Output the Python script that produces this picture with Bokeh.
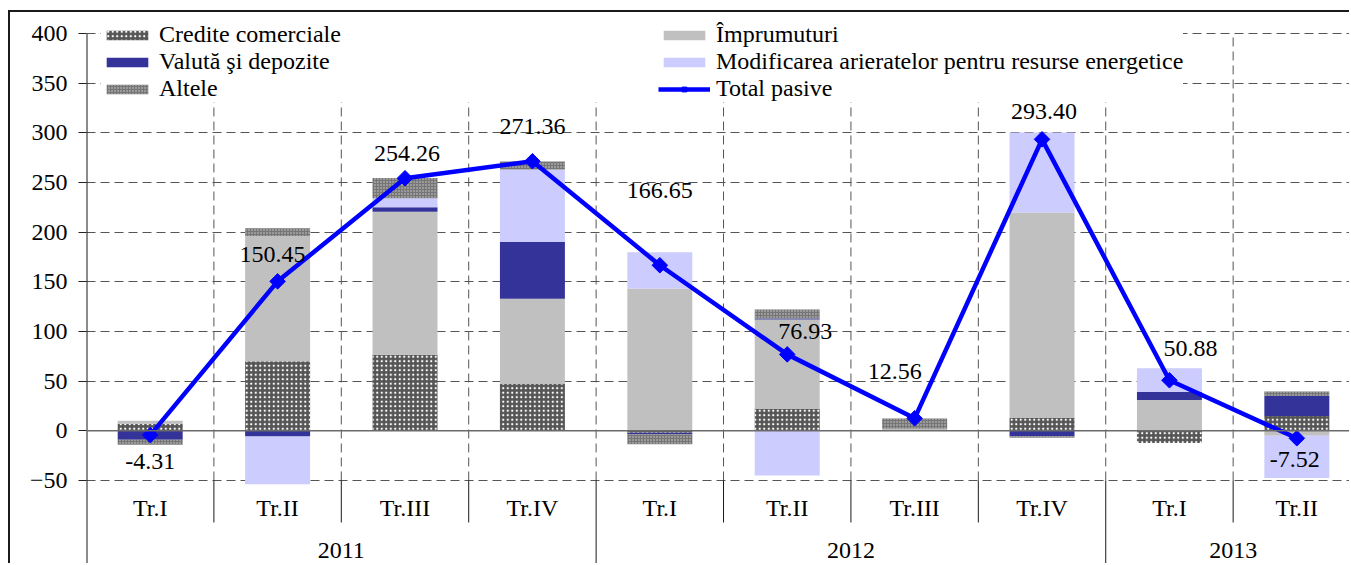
from bokeh.plotting import figure
from bokeh.models import (ColumnDataSource, Range1d, FixedTicker, Legend, LegendItem, Span)
from bokeh.core.properties import value
from bokeh.embed import file_html
from bokeh.resources import INLINE
import math

# ---------------- data ----------------
quarters = ["Tr.I", "Tr.II", "Tr.III", "Tr.IV", "Tr.I", "Tr.II", "Tr.III", "Tr.IV", "Tr.I", "Tr.II"]
years = ["2011", "2012", "2013"]
quarters_per_year = [4, 4, 2]

credite_comerciale = [7.0, 70.0, 76.5, 47.0, -2.0, 22.0, 0.5, 12.8, -12.4, 15.0]
imprumuturi = [3.0, 126.0, 144.0, 86.0, 143.3, 90.0, 1.5, 207.0, 31.0, -5.0]
valuta_depozite = [-9.0, -5.7, 4.5, 57.0, -1.5, 1.0, 0.0, -5.5, 8.0, 20.0]
modificarea_arieratelor = [0.0, -48.0, 9.0, 73.0, 36.5, -45.0, 0.0, 80.6, 24.0, -42.6]
altele = [-5.0, 8.0, 20.5, 8.0, -10.0, 9.0, 10.5, -1.5, 0.0, 4.6]
total_pasive = [-4.31, 150.45, 254.26, 271.36, 166.65, 76.93, 12.56, 293.40, 50.88, -7.52]

y_ticks = [-50, 0, 50, 100, 150, 200, 250, 300, 350, 400]

# ---------------- styling ----------------
FONT = "Liberation Serif"
FS = "24px"
label_dx = [0, -5, 2, 0, 0, 18, -20, 2, 21, -2]
label_dy = [26, -27, -25, -35, -75, -23, -47, -28, -32, 21]

n = len(quarters)
xc = [i + 0.5 for i in range(n)]

Y_TOP = 421.1
Y_BOTTOM = -135.6

p = figure(width=1341, height=553, output_backend="svg", toolbar_location=None,
           x_range=Range1d(0, 9.929), y_range=Range1d(Y_BOTTOM, Y_TOP),
           x_axis_location=None, min_border_left=76, min_border_right=0,
           min_border_top=0, min_border_bottom=0, title=None,
           styles={"border-top": "2px solid #1a1a1a", "border-left": "2px solid #1a1a1a",
                   "margin-top": "10px", "margin-left": "8px"})
p.outline_line_color = None
p.background_fill_color = "white"
p.border_fill_color = "white"
p.xgrid.visible = False

# y axis
ax = p.yaxis[0]
ax.ticker = FixedTicker(ticks=y_ticks)
ax.axis_line_color = None
ax.major_tick_out = 8
ax.major_tick_in = 0
ax.minor_tick_out = 0
ax.minor_tick_in = 0
ax.major_tick_line_color = "#222222"
ax.major_label_standoff = 11
ax.major_label_text_font = FONT
ax.major_label_text_font_size = FS
ax.major_label_text_color = "black"

p.ygrid.ticker = FixedTicker(ticks=[t for t in y_ticks if t != 0])
p.ygrid.grid_line_color = "#555555"
p.ygrid.grid_line_dash = "9 5"
p.ygrid.grid_line_width = 1

# vertical dashed dividers inside plot area
bounds = list(range(1, n))
p.segment(x0=bounds, y0=[y_ticks[0]] * len(bounds), x1=bounds, y1=[y_ticks[-1]] * len(bounds),
          line_color="#555555", line_dash="9 5", line_width=1, level="underlay")

series = [
    ("Credite comerciale", credite_comerciale,
     dict(fill_color="#555555", hatch_pattern="dot", hatch_color="white",
          hatch_scale=4.5, hatch_weight=3.2)),
    ("Împrumuturi", imprumuturi, dict(fill_color="#C0C0C0")),
    ("Valută şi depozite", valuta_depozite, dict(fill_color="#333399")),
    ("Modificarea arieratelor pentru resurse energetice", modificarea_arieratelor,
     dict(fill_color="#CCCCFF")),
    ("Altele", altele,
     dict(fill_color="#767676", hatch_pattern="dot", hatch_color="#d0d0d0",
          hatch_scale=3, hatch_weight=1)),
]

pos = [0.0] * n
neg = [0.0] * n
renderers = {}
for name, vals, style in series:
    bottoms, tops = [], []
    for i, v in enumerate(vals):
        if v >= 0:
            bottoms.append(pos[i]); tops.append(pos[i] + v); pos[i] += v
        else:
            bottoms.append(neg[i]); tops.append(neg[i] + v); neg[i] += v
    src = ColumnDataSource(dict(x=xc, bottom=bottoms, top=tops))
    r = p.vbar(x="x", width=0.51, bottom="bottom", top="top", source=src,
               line_color=None, **style)
    renderers[name] = r

# zero line
p.add_layout(Span(location=0, dimension="width", line_color="#6a6a6a", line_width=1.5))

# total line
tsrc = ColumnDataSource(dict(x=xc, y=total_pasive, lab=[f"{v:.2f}" for v in total_pasive],
                             dx=label_dx, dy=label_dy))
lr = p.line(x="x", y="y", source=tsrc, line_color="#0000FF", line_width=4.5)
mr = p.scatter(x="x", y="y", source=tsrc, marker="square", angle=math.pi / 4, size=11,
               fill_color="#0000FF", line_color="#0000FF")
p.text(x="x", y="y", text="lab", source=tsrc, x_offset="dx", y_offset="dy",
       text_font=value(FONT), text_font_size=FS, text_color="black",
       text_align="center", text_baseline="middle", level="overlay")

# axis line (left)
p.segment(x0=[0], y0=[y_ticks[-1]], x1=[0], y1=[Y_BOTTOM], line_color="#1a1a1a", line_width=2)

# category axis area
q_label_y = -78.2
year_label_y = -120.0
q_div_bottom = -92.3
p.text(x=xc, y=[q_label_y] * n, text=quarters, text_font=value(FONT), text_font_size=FS,
       text_color="black", text_align="center", text_baseline="middle")

year_starts = []
acc = 0
for c in quarters_per_year:
    year_starts.append(acc)
    acc += c
year_centers = [s + c / 2 for s, c in zip(year_starts, quarters_per_year)]
p.text(x=year_centers, y=[year_label_y] * len(years), text=years, text_font=value(FONT),
       text_font_size=FS, text_color="black", text_align="center", text_baseline="middle")

year_bounds = [s for s in year_starts[1:]]
q_bounds = [b for b in bounds if b not in year_bounds]
p.segment(x0=q_bounds, y0=[y_ticks[0]] * len(q_bounds), x1=q_bounds, y1=[q_div_bottom] * len(q_bounds),
          line_color="#1a1a1a", line_width=1)
p.segment(x0=year_bounds, y0=[y_ticks[0]] * len(year_bounds), x1=year_bounds,
          y1=[Y_BOTTOM] * len(year_bounds), line_color="#1a1a1a", line_width=1)

# legends
def make_legend(items, loc, lw=None):
    lg = Legend(items=items, location=loc, orientation="vertical",
                label_text_font=FONT, label_text_font_size=FS, label_text_color="black",
                glyph_width=52, glyph_height=12, label_standoff=6, spacing=0,
                label_height=25, padding=1, border_line_color=None,
                background_fill_color="white", background_fill_alpha=1.0)
    if lw is not None:
        lg.label_width = lw
    return lg

left_items = [LegendItem(label="Credite comerciale", renderers=[renderers["Credite comerciale"]]),
              LegendItem(label="Valută şi depozite", renderers=[renderers["Valută şi depozite"]]),
              LegendItem(label="Altele", renderers=[renderers["Altele"]])]
right_items = [LegendItem(label="Împrumuturi", renderers=[renderers["Împrumuturi"]]),
               LegendItem(label="Modificarea arieratelor pentru resurse energetice",
                          renderers=[renderers["Modificarea arieratelor pentru resurse energetice"]]),
               LegendItem(label="Total pasive", renderers=[lr, mr])]
p.add_layout(make_legend(left_items, (15, 463), 498), "center")
p.add_layout(make_legend(right_items, (572, 463)), "center")

open("out.html", "w").write(file_html(p, INLINE))
